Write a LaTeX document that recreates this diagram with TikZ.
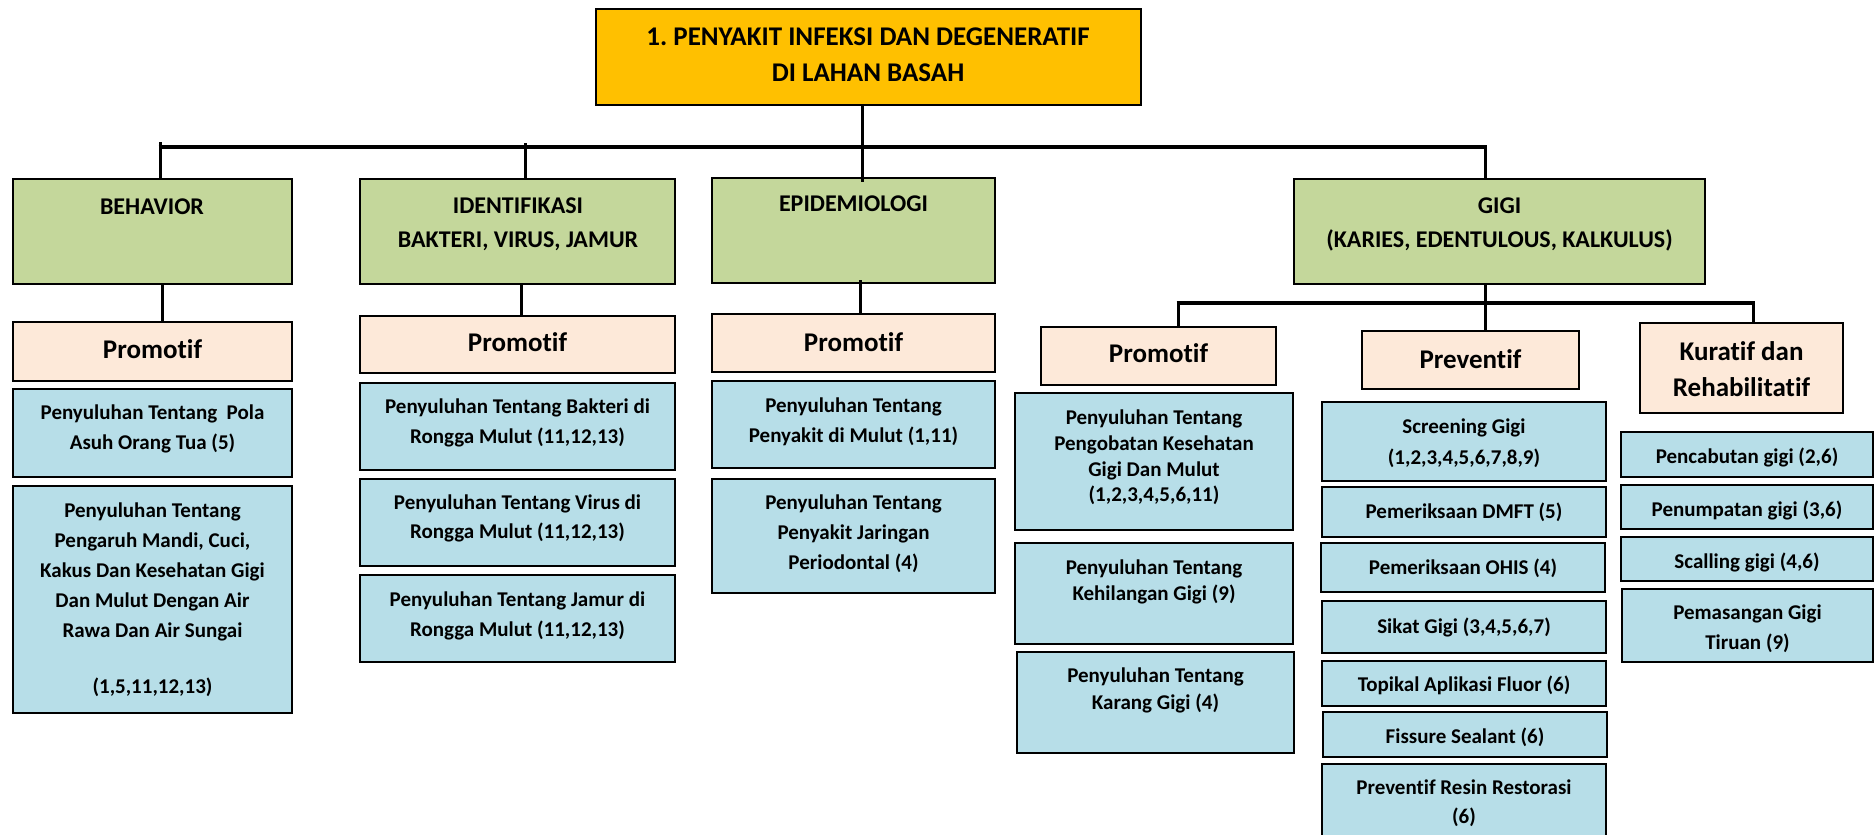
\documentclass[tikz,border=0pt]{standalone}
\usepackage{fontspec}
\setmainfont{Carlito}[Ligatures=NoCommon]
\frenchspacing
\definecolor{orangeT}{HTML}{FFC000}
\definecolor{greenL}{HTML}{C4D79B}
\definecolor{peach}{HTML}{FDE9D9}
\definecolor{blueL}{HTML}{B7DEE8}
\tikzset{
  bx/.style={draw=black, line width=1.8pt, inner sep=0pt, outer sep=0pt, anchor=north west},
  topbox/.style={bx, fill=orangeT},
  lvl/.style={bx, fill=greenL},
  cat/.style={bx, fill=peach},
  leaf/.style={bx, fill=blueL},
  txt/.style={inner sep=0pt, outer sep=0pt, align=center, anchor=north},
  conn/.style={line width=3pt},
  bar/.style={line width=4pt},
}
% name, style, x1, y1, x2, y2
\newcommand\Bx[6]{\node[#2, minimum width={(#5)-(#3)}, minimum height={(#6)-(#4)}] (#1) at (#3,#4) {};}
% name, x, first baseline, size, skip, text
\newcommand\Tx[6]{\node[txt, font=\bfseries\fontsize{#4}{#5}\selectfont] (#1) at (#2,{#3-0.85*#4}) {\rule{0pt}{0.85em}#6};}
\begin{document}
\begin{tikzpicture}[x=1pt,y=-1pt]
\useasboundingbox (0,0) rectangle (1875,835);
% ---- boxes
\Bx{top}{topbox}{596}{9}{1141}{105}
\Bx{behav}{lvl}{13}{179}{292}{284}
\Bx{ident}{lvl}{360}{179}{675}{284}
\Bx{epid}{lvl}{712}{178}{995}{283}
\Bx{gigi}{lvl}{1294}{179}{1705}{284}
\Bx{behavP}{cat}{13}{322}{292}{381}
\Bx{identP}{cat}{360}{316}{675}{373}
\Bx{epidP}{cat}{712}{314}{995}{372}
\Bx{gigiP}{cat}{1041}{327}{1276}{385}
\Bx{prev}{cat}{1362}{331}{1579}{389}
\Bx{kur}{cat}{1640}{323}{1843}{413}
\Bx{pola}{leaf}{13}{389}{292}{477}
\Bx{mandi}{leaf}{13}{486}{292}{713}
\Bx{bakteri}{leaf}{360}{383}{675}{470}
\Bx{virus}{leaf}{360}{479}{675}{566}
\Bx{jamur}{leaf}{360}{575}{675}{662}
\Bx{penyakit}{leaf}{712}{381}{995}{468}
\Bx{jaringan}{leaf}{712}{479}{995}{593}
\Bx{pengobatan}{leaf}{1015}{393}{1293}{530}
\Bx{kehilangan}{leaf}{1015}{543}{1293}{644}
\Bx{karang}{leaf}{1017}{652}{1294}{753}
\Bx{screening}{leaf}{1322}{402}{1606}{481}
\Bx{dmft}{leaf}{1322}{487}{1606}{537}
\Bx{ohis}{leaf}{1321}{543}{1605}{592}
\Bx{sikat}{leaf}{1322}{601}{1606}{653}
\Bx{topikal}{leaf}{1322}{661}{1606}{706}
\Bx{fissure}{leaf}{1323}{712}{1607}{757}
\Bx{resin}{leaf}{1322}{764}{1606}{845}
\Bx{pencabutan}{leaf}{1621}{432}{1873}{477}
\Bx{penumpatan}{leaf}{1621}{485}{1873}{529}
\Bx{scalling}{leaf}{1621}{537}{1873}{581}
\Bx{pemasangan}{leaf}{1622}{589}{1873}{662}
% ---- texts
\Tx{topT}{868}{45.5}{27}{36}{1. PENYAKIT INFEKSI DAN DEGENERATIF\\DI LAHAN BASAH}
\Tx{behavT}{152}{214}{24}{34}{BEHAVIOR}
\Tx{identT}{518}{213.6}{24}{33.5}{IDENTIFIKASI\\BAKTERI, VIRUS, JAMUR}
\Tx{epidT}{853.5}{211.6}{24}{34}{EPIDEMIOLOGI}
\Tx{gigiT}{1499.5}{213.6}{24}{34}{GIGI\\(KARIES, EDENTULOUS, KALKULUS)}
\Tx{behavPT}{152.5}{358.5}{27}{36}{Promotif}
\Tx{identPT}{517.5}{351.5}{27}{36}{Promotif}
\Tx{epidPT}{853.5}{351.5}{27}{36}{Promotif}
\Tx{gigiPT}{1158.5}{362.5}{27}{36}{Promotif}
\Tx{prevT}{1470.5}{368.5}{27}{36}{Preventif}
\Tx{kurT}{1741.5}{360.5}{27}{36}{Kuratif dan\\Rehabilitatif}
\Tx{polaT}{152.5}{419.6}{21}{30}{Penyuluhan Tentang\ \ Pola\\Asuh Orang Tua (5)}
\Tx{mandiT}{152.5}{517.6}{21}{30}{Penyuluhan Tentang\\Pengaruh Mandi, Cuci,\\Kakus Dan Kesehatan Gigi\\Dan Mulut Dengan Air\\Rawa Dan Air Sungai\\[26pt](1,5,11,12,13)}
\Tx{bakteriT}{517.5}{413.6}{21}{30}{Penyuluhan Tentang Bakteri di\\Rongga Mulut (11,12,13)}
\Tx{virusT}{517.5}{509.6}{21}{29}{Penyuluhan Tentang Virus di\\Rongga Mulut (11,12,13)}
\Tx{jamurT}{517.5}{606.6}{21}{30}{Penyuluhan Tentang Jamur di\\Rongga Mulut (11,12,13)}
\Tx{penyakitT}{853.5}{412.6}{21}{30}{Penyuluhan Tentang\\Penyakit di Mulut (1,11)}
\Tx{jaringanT}{853.5}{509.6}{21}{30}{Penyuluhan Tentang\\Penyakit Jaringan\\Periodontal (4)}
\Tx{pengobatanT}{1154}{424.6}{21}{25.7}{Penyuluhan Tentang\\Pengobatan Kesehatan\\Gigi Dan Mulut\\(1,2,3,4,5,6,11)}
\Tx{kehilanganT}{1154}{574.6}{21}{26}{Penyuluhan Tentang\\Kehilangan Gigi (9)}
\Tx{karangT}{1155.5}{682.6}{21}{27}{Penyuluhan Tentang\\Karang Gigi (4)}
\Tx{screeningT}{1464}{433.6}{21}{31}{Screening Gigi\\(1,2,3,4,5,6,7,8,9)}
\Tx{dmftT}{1464}{518.6}{21}{30}{Pemeriksaan DMFT (5)}
\Tx{ohisT}{1463}{574.6}{21}{30}{Pemeriksaan OHIS (4)}
\Tx{sikatT}{1464}{633.6}{21}{30}{Sikat Gigi (3,4,5,6,7)}
\Tx{topikalT}{1464}{691.6}{21}{30}{Topikal Aplikasi Fluor (6)}
\Tx{fissureT}{1465}{743.6}{21}{30}{Fissure Sealant (6)}
\Tx{resinT}{1464}{794.6}{21}{29}{Preventif Resin Restorasi\\(6)}
\Tx{pencabutanT}{1747}{463.6}{21}{30}{Pencabutan gigi (2,6)}
\Tx{penumpatanT}{1747}{516.6}{21}{30}{Penumpatan gigi (3,6)}
\Tx{scallingT}{1747}{568.6}{21}{30}{Scalling gigi (4,6)}
\Tx{pemasanganT}{1747.5}{619.6}{21}{30}{Pemasangan Gigi\\Tiruan (9)}
% ---- connectors
\coordinate (mL) at (158.5,147);
\coordinate (mR) at (1486.5,147);
\draw[bar] (mL) -- (mR);
\coordinate (tB) at (160,142);
\draw[conn] (tB) -- (tB |- behav.north);
\coordinate (tI) at (525,143);
\draw[conn] (tI) -- (tI |- ident.north);
\coordinate (tE) at (862,147);
\draw[conn] (tE |- top.south) -- ([yshift=-4pt]tE |- epid.north);
\coordinate (tG) at (1485,145);
\draw[conn] (tG) -- (tG |- gigi.north);
\coordinate (dB) at (162,300);
\draw[conn] (dB |- behav.south) -- (dB |- behavP.north);
\coordinate (dI) at (521,300);
\draw[conn] (dI |- ident.south) -- (dI |- identP.north);
\coordinate (dE) at (860,300);
\draw[conn] ([yshift=3pt]dE |- epid.south) -- (dE |- epidP.north);
\coordinate (dG) at (1485,300);
\draw[conn] (dG |- gigi.south) -- (dG |- prev.north);
\coordinate (sL) at (1176.5,303);
\coordinate (sR) at (1754.5,303);
\draw[bar] (sL) -- (sR);
\coordinate (sLt) at (1178,301);
\draw[conn] (sLt) -- (sLt |- gigiP.north);
\coordinate (sRt) at (1753,301);
\draw[conn] (sRt) -- (sRt |- kur.north);
\end{tikzpicture}
\end{document}
